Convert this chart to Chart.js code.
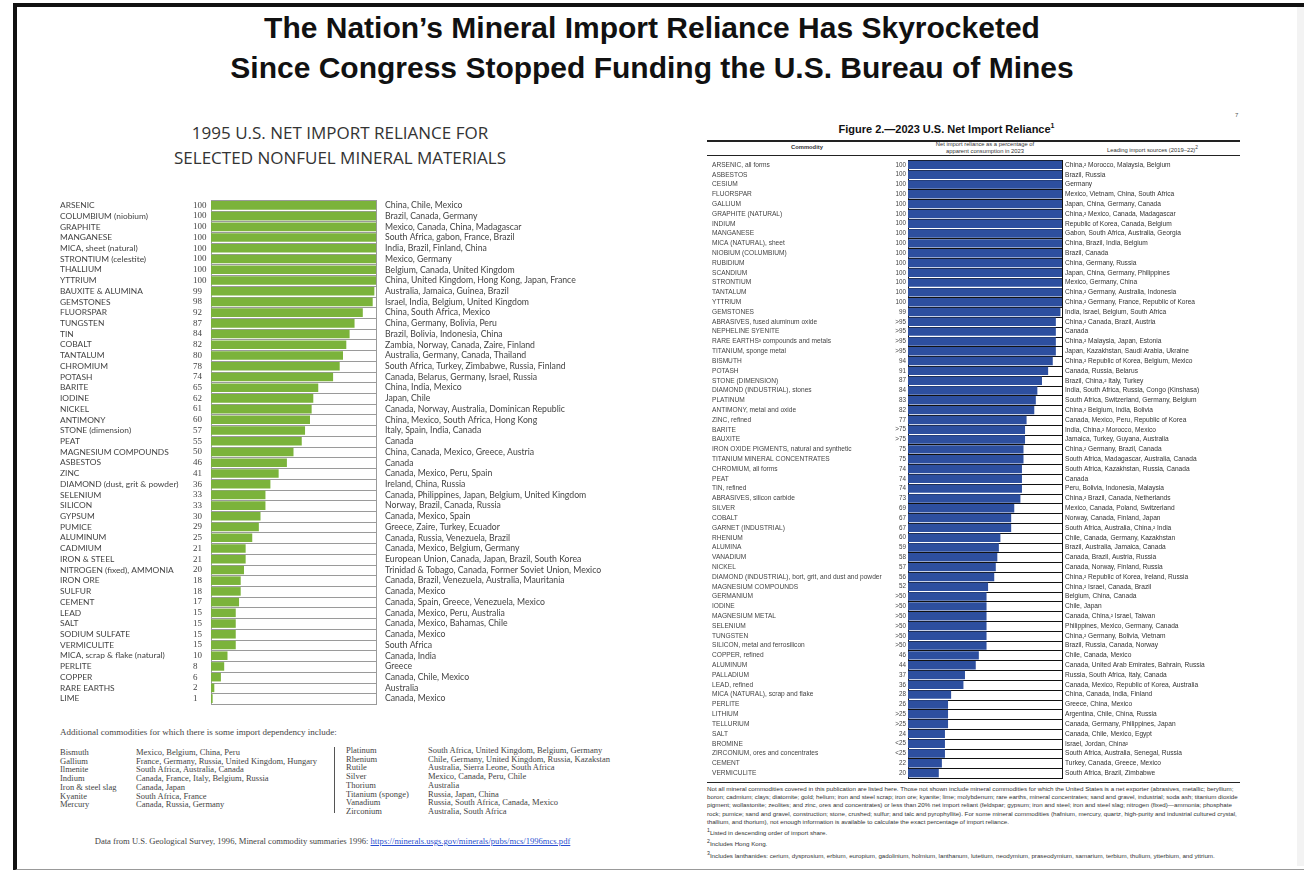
<!DOCTYPE html>
<html>
<head>
<meta charset="utf-8">
<script src="https://cdn.jsdelivr.net/npm/chart.js@4.4.1/dist/chart.umd.min.js"></script>
<style>
  body { margin: 0; width: 1304px; height: 870px; background: #fff; position: relative; overflow: hidden; font-family: "Liberation Sans", Arial, sans-serif; }
  .abs { position: absolute; }
  #frame { left: 13px; top: 3px; width: 1300px; height: 862px; border-left: 4px solid #111; border-top: 4px solid #111; border-bottom: 2px solid #999; }
  #edge { left: 1297px; top: 7px; width: 7px; height: 859px; background: #f3f3f3; }
  #title { left: 0; width: 1304px; top: 8px; text-align: center; font-weight: bold; font-size: 30px; line-height: 40px; color: #111; }
  #sub95 { left: 110px; width: 460px; top: 120px; text-align: center; font-family: "Open Sans", sans-serif; font-size: 17px; line-height: 25px; color: #333; }
  #fig23 { left: 680px; width: 533px; top: 122px; text-align: center; font-weight: bold; font-size: 11px; color: #111; }
  #pageno { left: 1235px; top: 112px; font-size: 6px; color: #555; }
  .hline { background: #222; left: 707px; width: 533px; height: 1px; }
  .hdr { font-size: 5.8px; color: #333; text-align: center; line-height: 7px; }
  #notes23 { left: 707px; width: 533px; top: 785px; font-size: 6.2px; line-height: 8.2px; color: #333; }
  #notes23 p { margin: 0; }
  .serif { font-family: "Liberation Serif", "Times New Roman", serif; color: #444; }
  #addl { left: 60px; top: 727px; font-size: 9px; }
  .col { font-size: 8.5px; line-height: 8.7px; white-space: nowrap; }
  #divider { left: 334px; top: 747px; width: 1px; height: 66px; background: #555; }
  #datafrom { left: 50px; width: 565px; top: 836px; text-align: center; font-size: 8.6px; }
  #datafrom a { color: #2a4fd0; text-decoration: underline; }
</style>
</head>
<body>
<div id="frame" class="abs"></div>
<div id="edge" class="abs"></div>
<div id="title" class="abs">The Nation’s Mineral Import Reliance Has Skyrocketed<br>Since Congress Stopped Funding the U.S. Bureau of Mines</div>

<div id="sub95" class="abs">1995 U.S. NET IMPORT RELIANCE FOR<br>SELECTED NONFUEL MINERAL MATERIALS</div>
<canvas id="chart95" class="abs" width="570" height="514" style="left:55px;top:195px;"></canvas>

<div id="addl" class="abs serif">Additional commodities for which there is some import dependency include:</div>
<div class="abs serif col" style="left:60px;top:748px;">Bismuth<br>Gallium<br>Ilmenite<br>Indium<br>Iron &amp; steel slag<br>Kyanite<br>Mercury</div>
<div class="abs serif col" style="left:136px;top:748px;">Mexico, Belgium, China, Peru<br>France, Germany, Russia, United Kingdom, Hungary<br>South Africa, Australia, Canada<br>Canada, France, Italy, Belgium, Russia<br>Canada, Japan<br>South Africa, France<br>Canada, Russia, Germany</div>
<div id="divider" class="abs"></div>
<div class="abs serif col" style="left:346px;top:746px;">Platinum<br>Rhenium<br>Rutile<br>Silver<br>Thorium<br>Titanium (sponge)<br>Vanadium<br>Zirconium</div>
<div class="abs serif col" style="left:428px;top:746px;">South Africa, United Kingdom, Belgium, Germany<br>Chile, Germany, United Kingdom, Russia, Kazakstan<br>Australia, Sierra Leone, South Africa<br>Mexico, Canada, Peru, Chile<br>Australia<br>Russia, Japan, China<br>Russia, South Africa, Canada, Mexico<br>Australia, South Africa</div>
<div id="datafrom" class="abs serif">Data from U.S. Geological Survey, 1996, Mineral commodity summaries 1996: <a>https://minerals.usgs.gov/minerals/pubs/mcs/1996mcs.pdf</a></div>

<div id="pageno" class="abs">7</div>
<div id="fig23" class="abs">Figure 2.—2023 U.S. Net Import Reliance<sup style="font-size:7px">1</sup></div>
<div class="abs hline" style="top:140px;height:1.5px;"></div>
<div class="abs hdr" style="left:707px;width:200px;top:144px;font-weight:bold;">Commodity</div>
<div class="abs hdr" style="left:908px;width:154px;top:141px;">Net import reliance as a percentage of<br>apparent consumption in 2023</div>
<div class="abs hdr" style="left:1065px;width:175px;top:144px;">Leading import sources (2019–22)<sup>2</sup></div>
<div class="abs hline" style="top:155px;"></div>
<canvas id="chart23" class="abs" width="540" height="626" style="left:705px;top:156px;"></canvas>
<div class="abs hline" style="top:782px;"></div>
<div id="notes23" class="abs">
  <p>Not all mineral commodities covered in this publication are listed here. Those not shown include mineral commodities for which the United States is a net exporter (abrasives, metallic; beryllium; boron; cadmium; clays; diatomite; gold; helium; iron and steel scrap; iron ore; kyanite; lime; molybdenum; rare earths, mineral concentrates; sand and gravel, industrial; soda ash; titanium dioxide pigment; wollastonite; zeolites; and zinc, ores and concentrates) or less than 20% net import reliant (feldspar; gypsum; iron and steel; iron and steel slag; nitrogen (fixed)—ammonia; phosphate rock; pumice; sand and gravel, construction; stone, crushed; sulfur; and talc and pyrophyllite). For some mineral commodities (hafnium, mercury, quartz, high-purity and industrial cultured crystal, thallium, and thorium), not enough information is available to calculate the exact percentage of import reliance.</p>
  <p><sup>1</sup>Listed in descending order of import share.</p>
  <p><sup>2</sup>Includes Hong Kong.</p>
  <p><sup>3</sup>Includes lanthanides: cerium, dysprosium, erbium, europium, gadolinium, holmium, lanthanum, lutetium, neodymium, praseodymium, samarium, terbium, thulium, ytterbium, and yttrium.</p>
</div>

<script>
// 1995 chart data
const names1995 = ["ARSENIC", "COLUMBIUM (niobium)", "GRAPHITE", "MANGANESE", "MICA, sheet (natural)", "STRONTIUM (celestite)",
  "THALLIUM", "YTTRIUM", "BAUXITE & ALUMINA", "GEMSTONES", "FLUORSPAR", "TUNGSTEN", "TIN", "COBALT", "TANTALUM",
  "CHROMIUM", "POTASH", "BARITE", "IODINE", "NICKEL", "ANTIMONY", "STONE (dimension)", "PEAT", "MAGNESIUM COMPOUNDS",
  "ASBESTOS", "ZINC", "DIAMOND (dust, grit & powder)", "SELENIUM", "SILICON", "GYPSUM", "PUMICE", "ALUMINUM",
  "CADMIUM", "IRON & STEEL", "NITROGEN (fixed), AMMONIA", "IRON ORE", "SULFUR", "CEMENT", "LEAD", "SALT",
  "SODIUM SULFATE", "VERMICULITE", "MICA, scrap & flake (natural)", "PERLITE", "COPPER", "RARE EARTHS", "LIME"];
const values1995 = [100, 100, 100, 100, 100, 100, 100, 100, 99, 98, 92, 87, 84, 82, 80,
  78, 74, 65, 62, 61, 60, 57, 55, 50, 46, 41, 36, 33, 33, 30, 29, 25,
  21, 21, 20, 18, 18, 17, 15, 15, 15, 15, 10, 8, 6, 2, 1];
const sources1995 = ["China, Chile, Mexico", "Brazil, Canada, Germany", "Mexico, Canada, China, Madagascar",
  "South Africa, gabon, France, Brazil", "India, Brazil, Finland, China", "Mexico, Germany",
  "Belgium, Canada, United Kingdom", "China, United Kingdom, Hong Kong, Japan, France", "Australia, Jamaica, Guinea, Brazil",
  "Israel, India, Belgium, United Kingdom", "China, South Africa, Mexico", "China, Germany, Bolivia, Peru",
  "Brazil, Bolivia, Indonesia, China", "Zambia, Norway, Canada, Zaire, Finland", "Australia, Germany, Canada, Thailand",
  "South Africa, Turkey, Zimbabwe, Russia, Finland", "Canada, Belarus, Germany, Israel, Russia", "China, India, Mexico",
  "Japan, Chile", "Canada, Norway, Australia, Dominican Republic", "China, Mexico, South Africa, Hong Kong",
  "Italy, Spain, India, Canada", "Canada", "China, Canada, Mexico, Greece, Austria", "Canada", "Canada, Mexico, Peru, Spain",
  "Ireland, China, Russia", "Canada, Philippines, Japan, Belgium, United Kingdom", "Norway, Brazil, Canada, Russia",
  "Canada, Mexico, Spain", "Greece, Zaire, Turkey, Ecuador", "Canada, Russia, Venezuela, Brazil",
  "Canada, Mexico, Belgium, Germany", "European Union, Canada, Japan, Brazil, South Korea",
  "Trinidad & Tobago, Canada, Former Soviet Union, Mexico", "Canada, Brazil, Venezuela, Australia, Mauritania",
  "Canada, Mexico", "Canada, Spain, Greece, Venezuela, Mexico", "Canada, Mexico, Peru, Australia",
  "Canada, Mexico, Bahamas, Chile", "Canada, Mexico", "South Africa", "Canada, India", "Greece",
  "Canada, Chile, Mexico", "Australia", "Canada, Mexico"];

// 2023 chart data
const names2023 = ["ARSENIC, all forms", "ASBESTOS", "CESIUM", "FLUORSPAR", "GALLIUM", "GRAPHITE (NATURAL)", "INDIUM",
  "MANGANESE", "MICA (NATURAL), sheet", "NIOBIUM (COLUMBIUM)", "RUBIDIUM", "SCANDIUM", "STRONTIUM", "TANTALUM",
  "YTTRIUM", "GEMSTONES", "ABRASIVES, fused aluminum oxide", "NEPHELINE SYENITE", "RARE EARTHS³ compounds and metals",
  "TITANIUM, sponge metal", "BISMUTH", "POTASH", "STONE (DIMENSION)", "DIAMOND (INDUSTRIAL), stones", "PLATINUM",
  "ANTIMONY, metal and oxide", "ZINC, refined", "BARITE", "BAUXITE", "IRON OXIDE PIGMENTS, natural and synthetic",
  "TITANIUM MINERAL CONCENTRATES", "CHROMIUM, all forms", "PEAT", "TIN, refined", "ABRASIVES, silicon carbide",
  "SILVER", "COBALT", "GARNET (INDUSTRIAL)", "RHENIUM", "ALUMINA", "VANADIUM", "NICKEL",
  "DIAMOND (INDUSTRIAL), bort, grit, and dust and powder", "MAGNESIUM COMPOUNDS", "GERMANIUM", "IODINE",
  "MAGNESIUM METAL", "SELENIUM", "TUNGSTEN", "SILICON, metal and ferrosilicon", "COPPER, refined", "ALUMINUM",
  "PALLADIUM", "LEAD, refined", "MICA (NATURAL), scrap and flake", "PERLITE", "LITHIUM", "TELLURIUM", "SALT",
  "BROMINE", "ZIRCONIUM, ores and concentrates", "CEMENT", "VERMICULITE"];
const values2023 = [100, 100, 100, 100, 100, 100, 100, 100, 100, 100, 100, 100, 100, 100, 100,
  99, 96, 96, 96, 96, 94, 91, 87, 84, 83, 82, 77, 76, 76, 75, 75, 74, 74, 74, 73,
  69, 67, 67, 60, 59, 58, 57, 56, 52, 51, 51, 51, 51, 51, 51,
  46, 44, 37, 36, 28, 26, 26, 26, 24, 24, 24, 22, 20];
const valueText2023 = ["100", "100", "100", "100", "100", "100", "100", "100", "100", "100", "100", "100", "100", "100", "100",
  "99", ">95", ">95", ">95", ">95", "94", "91", "87", "84", "83", "82", "77", ">75", ">75", "75", "75", "74", "74", "74", "73",
  "69", "67", "67", "60", "59", "58", "57", "56", "52", ">50", ">50", ">50", ">50", ">50", ">50",
  "46", "44", "37", "36", "28", "26", ">25", ">25", "24", "<25", "<25", "22", "20"];
const sources2023 = ["China,² Morocco, Malaysia, Belgium", "Brazil, Russia", "Germany", "Mexico, Vietnam, China, South Africa",
  "Japan, China, Germany, Canada", "China,² Mexico, Canada, Madagascar", "Republic of Korea, Canada, Belgium",
  "Gabon, South Africa, Australia, Georgia", "China, Brazil, India, Belgium", "Brazil, Canada", "China, Germany, Russia",
  "Japan, China, Germany, Philippines", "Mexico, Germany, China", "China,² Germany, Australia, Indonesia",
  "China,² Germany, France, Republic of Korea", "India, Israel, Belgium, South Africa", "China,² Canada, Brazil, Austria",
  "Canada", "China,² Malaysia, Japan, Estonia", "Japan, Kazakhstan, Saudi Arabia, Ukraine",
  "China,² Republic of Korea, Belgium, Mexico", "Canada, Russia, Belarus", "Brazil, China,² Italy, Turkey",
  "India, South Africa, Russia, Congo (Kinshasa)", "South Africa, Switzerland, Germany, Belgium",
  "China,² Belgium, India, Bolivia", "Canada, Mexico, Peru, Republic of Korea", "India, China,² Morocco, Mexico",
  "Jamaica, Turkey, Guyana, Australia", "China,² Germany, Brazil, Canada", "South Africa, Madagascar, Australia, Canada",
  "South Africa, Kazakhstan, Russia, Canada", "Canada", "Peru, Bolivia, Indonesia, Malaysia",
  "China,² Brazil, Canada, Netherlands", "Mexico, Canada, Poland, Switzerland", "Norway, Canada, Finland, Japan",
  "South Africa, Australia, China,² India", "Chile, Canada, Germany, Kazakhstan", "Brazil, Australia, Jamaica, Canada",
  "Canada, Brazil, Austria, Russia", "Canada, Norway, Finland, Russia", "China,² Republic of Korea, Ireland, Russia",
  "China,² Israel, Canada, Brazil", "Belgium, China, Canada", "Chile, Japan", "Canada, China,² Israel, Taiwan",
  "Philippines, Mexico, Germany, Canada", "China,² Germany, Bolivia, Vietnam", "Brazil, Russia, Canada, Norway",
  "Chile, Canada, Mexico", "Canada, United Arab Emirates, Bahrain, Russia", "Russia, South Africa, Italy, Canada",
  "Canada, Mexico, Republic of Korea, Australia", "China, Canada, India, Finland", "Greece, China, Mexico",
  "Argentina, Chile, China, Russia", "Canada, Germany, Philippines, Japan", "Canada, Chile, Mexico, Egypt",
  "Israel, Jordan, China²", "South Africa, Australia, Senegal, Russia", "Turkey, Canada, Greece, Mexico",
  "South Africa, Brazil, Zimbabwe"];

// draws the row boxes, the value column and the import sources column
function tablePlugin(valueText, sources, cfg) {
  return {
    id: 'table',
    beforeDatasetsDraw(chart) {
      const { ctx, scales: { x, y } } = chart;
      const h = y.getPixelForValue(1) - y.getPixelForValue(0);
      const x0 = x.getPixelForValue(0), x1 = x.getPixelForValue(100);
      ctx.save();
      ctx.fillStyle = '#fff';
      ctx.strokeStyle = cfg.boxColor;
      ctx.lineWidth = 1;
      for (let i = 0; i < sources.length; i++) {
        const top = Math.round(y.getPixelForValue(i) - h / 2) + 0.5;
        ctx.fillRect(x0, top, x1 - x0, h);
        ctx.strokeRect(Math.round(x0) + 0.5, top, Math.round(x1 - x0), Math.round(h));
      }
      ctx.restore();
    },
    afterDatasetsDraw(chart) {
      const { ctx, scales: { x, y } } = chart;
      ctx.save();
      ctx.textBaseline = 'middle';
      for (let i = 0; i < sources.length; i++) {
        const py = y.getPixelForValue(i);
        ctx.font = cfg.valueFont;
        ctx.fillStyle = cfg.valueColor;
        ctx.textAlign = cfg.valueAlign;
        ctx.fillText(valueText[i], x.left + cfg.valueDx, py);
        ctx.font = cfg.sourceFont;
        ctx.fillStyle = cfg.sourceColor;
        ctx.textAlign = 'left';
        ctx.fillText(sources[i], x.right + cfg.sourceDx, py);
      }
      ctx.restore();
    }
  };
}

function barChart(id, names, values, color, barPct, padLeft, axisWidth, padRight, tickFont, plugin) {
  return new Chart(document.getElementById(id), {
    type: 'bar',
    data: {
      labels: names,
      datasets: [{ data: values, backgroundColor: color, barPercentage: barPct, categoryPercentage: 1, borderWidth: 0 }]
    },
    options: {
      indexAxis: 'y',
      responsive: false,
      animation: false,
      layout: { padding: { left: padLeft, right: padRight, top: 0, bottom: 0 } },
      plugins: { legend: { display: false }, tooltip: { enabled: false } },
      scales: {
        x: { min: 0, max: 100, display: false },
        y: {
          grid: { display: false },
          border: { display: false },
          ticks: { autoSkip: false, crossAlign: 'far', padding: 0, font: tickFont, color: '#444' },
          afterFit(scale) { scale.width = axisWidth; }
        }
      }
    },
    plugins: [plugin]
  });
}

barChart('chart95', names1995, values1995, '#7bb33b', 0.8, 5, 151, 249,
  { family: 'Lato', size: 8.4 },
  tablePlugin(values1995.map(String), sources1995, {
    boxColor: '#9a9a9a', valueFont: '9px "Liberation Serif"', valueColor: '#444', valueAlign: 'left', valueDx: -18,
    sourceFont: '8.7px Lato', sourceColor: '#444', sourceDx: 9
  }));

barChart('chart23', names2023, values2023, '#2d4f9f', 0.86, 7, 196, 183,
  { family: 'Liberation Sans', size: 6.6 },
  tablePlugin(valueText2023, sources2023, {
    boxColor: '#111', valueFont: '6.3px "Liberation Sans"', valueColor: '#444', valueAlign: 'right', valueDx: -2,
    sourceFont: '6.6px "Liberation Sans"', sourceColor: '#333', sourceDx: 3
  }));
</script>
</body>
</html>
